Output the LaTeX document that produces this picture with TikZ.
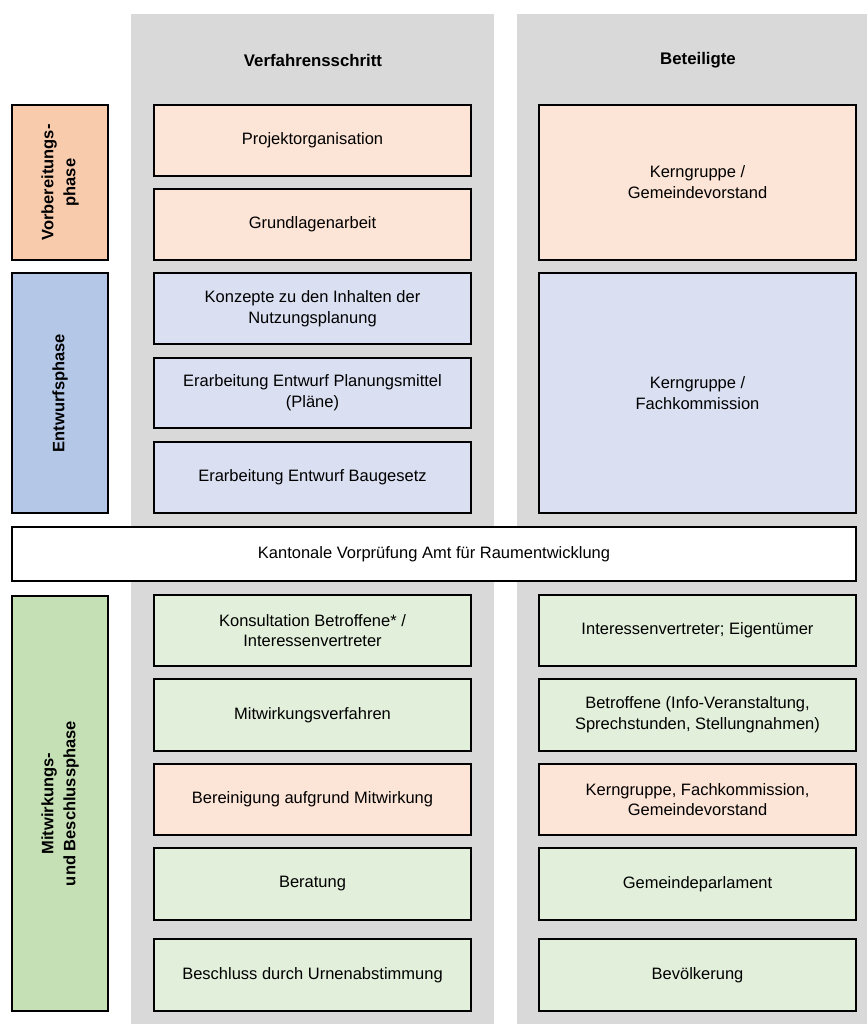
\documentclass[tikz,border=0pt]{standalone}
\usepackage{fontspec}
\setmainfont{Liberation Sans}
\begin{document}
\begin{tikzpicture}[x=1pt,y=-1pt,
  every node/.style={font=\fontsize{16.5}{20.8}\selectfont, align=center, inner sep=0pt},
  colbg/.style={fill=gray85, draw=none},
  boxbase/.style={draw=black, line width=2pt, rectangle},
  phaseO/.style={boxbase, fill=phaseorange},
  phaseB/.style={boxbase, fill=phaseblue},
  phaseG/.style={boxbase, fill=phasegreen},
  lightO/.style={boxbase, fill=lightorange},
  lightB/.style={boxbase, fill=lightblue},
  lightG/.style={boxbase, fill=lightgreen},
  whitebox/.style={boxbase, fill=white},
  headtext/.style={font=\fontsize{16.8}{20.8}\selectfont\bfseries},
  phasetext/.style={font=\fontsize{16.5}{22}\selectfont\bfseries, rotate=90}
]
\definecolor{gray85}{HTML}{D9D9D9}
\definecolor{phaseorange}{HTML}{F8CBAD}
\definecolor{phaseblue}{HTML}{B4C7E7}
\definecolor{phasegreen}{HTML}{C5E0B4}
\definecolor{lightorange}{HTML}{FCE4D6}
\definecolor{lightblue}{HTML}{DAE0F2}
\definecolor{lightgreen}{HTML}{E2EFDA}

\newcommand{\bx}[7]{%
  \node[#6, minimum width={(#4)-(#2)}, minimum height={(#5)-(#3)}] (#1) at ({((#2)+(#4))/2},{((#3)+(#5))/2}) {#7};}

\useasboundingbox (0,0) rectangle (867,1024);

% column backgrounds
\fill[gray85] (131,14) rectangle (494,1024);
\fill[gray85] (517,14) rectangle (867,1024);

\node[headtext] (h1) at (313,60) {Verfahrensschritt};
\node[headtext] (h2) at (698,60) {Beteiligte};

% phase boxes
\bx{p1}{12}{105}{108}{260}{phaseO}{}
\node[phasetext] (p1t) at (p1.center) {Vorbereitungs-\\phase};
\bx{p2}{12}{273}{108}{513}{phaseB}{}
\node[phasetext] (p2t) at (p2.center) {Entwurfsphase};
\bx{p3}{12}{596}{108}{1011}{phaseG}{}
\node[phasetext] (p3t) at (p3.center) {Mitwirkungs-\\und Beschlussphase};

% Verfahrensschritt column
\bx{a1}{154}{105}{471}{176}{lightO}{Projektorganisation}
\bx{a2}{154}{189}{471}{260}{lightO}{Grundlagenarbeit}
\bx{a3}{154}{273}{471}{344}{lightB}{Konzepte zu den Inhalten der\\Nutzungsplanung}
\bx{a4}{154}{358}{471}{428}{lightB}{Erarbeitung Entwurf Planungsmittel\\(Pläne)}
\bx{a5}{154}{442}{471}{513}{lightB}{Erarbeitung Entwurf Baugesetz}
\bx{a6}{154}{595}{471}{666}{lightG}{Konsultation Betroffene* /\\Interessenvertreter}
\bx{a7}{154}{679}{471}{751}{lightG}{Mitwirkungsverfahren}
\bx{a8}{154}{764}{471}{835}{lightO}{Bereinigung aufgrund Mitwirkung}
\bx{a9}{154}{848}{471}{920}{lightG}{Beratung}
\bx{a10}{154}{939}{471}{1011}{lightG}{Beschluss durch Urnenabstimmung}

% Beteiligte column
\bx{b1}{539}{105}{856}{260}{lightO}{Kerngruppe /\\Gemeindevorstand}
\bx{b2}{539}{273}{856}{513}{lightB}{Kerngruppe /\\Fachkommission}
\bx{b6}{539}{595}{856}{666}{lightG}{Interessenvertreter; Eigentümer}
\bx{b7}{539}{679}{856}{751}{lightG}{Betroffene (Info-Veranstaltung,\\Sprechstunden, Stellungnahmen)}
\bx{b8}{539}{764}{856}{835}{lightO}{Kerngruppe, Fachkommission,\\Gemeindevorstand}
\bx{b9}{539}{848}{856}{920}{lightG}{Gemeindeparlament}
\bx{b10}{539}{939}{856}{1011}{lightG}{Bevölkerung}

% Kantonale Vorprüfung
\bx{k}{12}{527}{856}{581}{whitebox}{Kantonale Vorprüfung Amt für Raumentwicklung}
\end{tikzpicture}
\end{document}
